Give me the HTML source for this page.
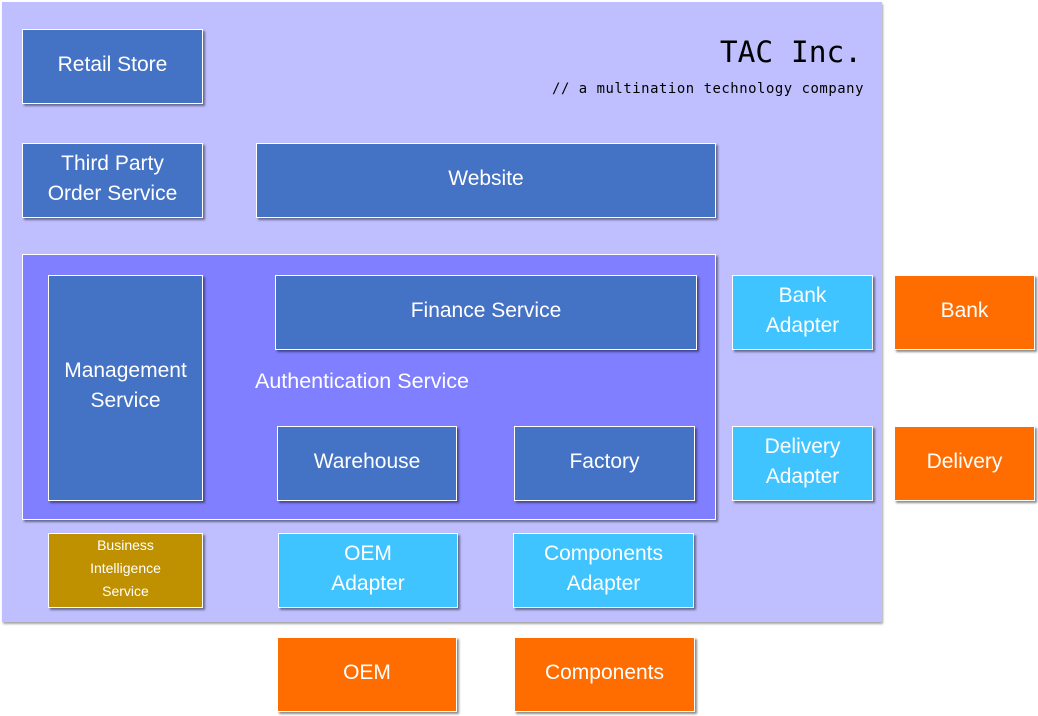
<!DOCTYPE html>
<html><head><meta charset="utf-8"><style>
body{margin:0;width:1038px;height:716px;background:#fff;position:relative;overflow:hidden;font-family:"Liberation Sans",sans-serif}
.b{position:absolute;box-sizing:border-box;border:1px solid #fff;box-shadow:2px 2px 2px rgba(0,0,0,.45);display:flex;align-items:center;justify-content:center;text-align:center;color:#fff;font-size:21px;line-height:30px;padding-bottom:4px}
.d{background:#4472c4}.c{background:#40c4ff}.o{background:#ff6d00}
.t{position:absolute;font-family:"DejaVu Sans Mono","Liberation Mono",monospace;color:#000;right:175px}
</style></head><body>
<div class="b" style="left:2px;top:2px;width:880px;height:620px;background:#bfbfff;border:none;box-shadow:1px 2px 2px rgba(0,0,0,.35)"></div>
<div class="t" style="top:34px;font-size:29.5px;line-height:36px;right:176px">TAC Inc.</div>
<div class="t" style="top:80px;font-size:13.9px;line-height:18px;right:174px;letter-spacing:0.55px">// a multination technology company</div>
<div class="b d" style="left:22px;top:29px;width:181px;height:75px">Retail Store</div>
<div class="b d" style="left:22px;top:143px;width:181px;height:75px">Third Party<br>Order Service</div>
<div class="b d" style="left:256px;top:143px;width:460px;height:75px">Website</div>
<div class="b" style="left:22px;top:254px;width:694px;height:266px;background:#7f7fff"></div>
<div style="position:absolute;left:255px;top:367px;color:#fff;font-size:21.5px;line-height:28px">Authentication Service</div>
<div class="b d" style="left:48px;top:275px;width:155px;height:226px">Management<br>Service</div>
<div class="b d" style="left:275px;top:275px;width:422px;height:75px">Finance Service</div>
<div class="b d" style="left:277px;top:426px;width:180px;height:75px">Warehouse</div>
<div class="b d" style="left:514px;top:426px;width:181px;height:75px">Factory</div>
<div class="b" style="left:48px;top:533px;width:155px;height:75px;background:#bf9000;font-size:14px;line-height:23px">Business<br>Intelligence<br>Service</div>
<div class="b c" style="left:278px;top:533px;width:180px;height:75px">OEM<br>Adapter</div>
<div class="b c" style="left:513px;top:533px;width:181px;height:75px">Components<br>Adapter</div>
<div class="b c" style="left:732px;top:275px;width:141px;height:75px">Bank<br>Adapter</div>
<div class="b c" style="left:732px;top:426px;width:141px;height:75px">Delivery<br>Adapter</div>
<div class="b o" style="left:894px;top:275px;width:141px;height:75px">Bank</div>
<div class="b o" style="left:894px;top:426px;width:141px;height:75px">Delivery</div>
<div class="b o" style="left:277px;top:637px;width:180px;height:75px">OEM</div>
<div class="b o" style="left:514px;top:637px;width:181px;height:75px">Components</div>
</body></html>
